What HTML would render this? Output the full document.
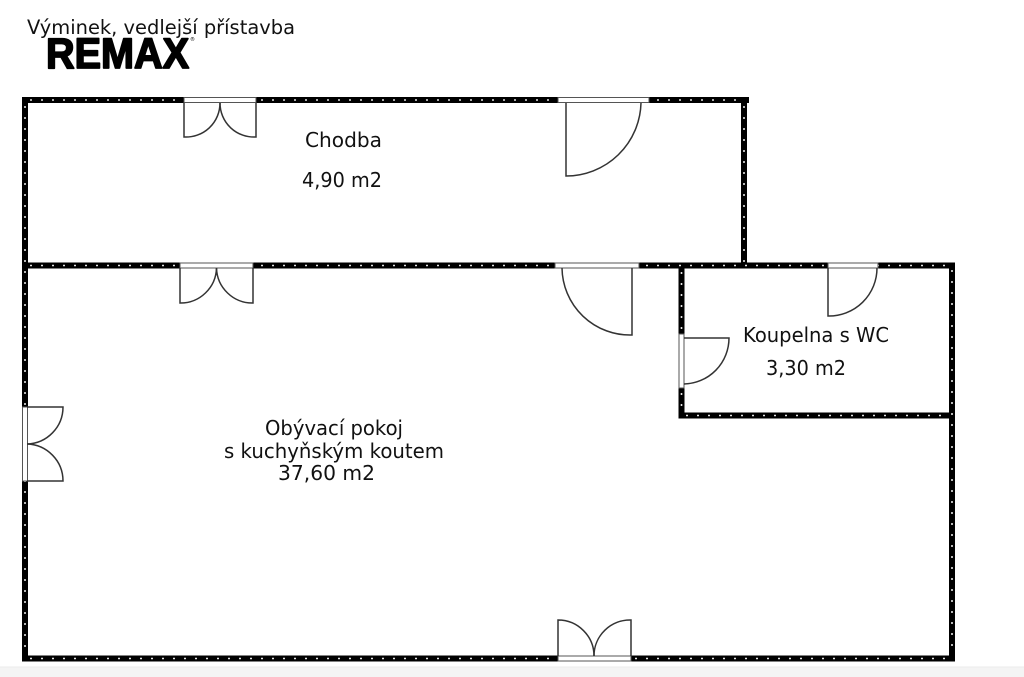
<!DOCTYPE html>
<html><head><meta charset="utf-8"><style>
html,body{margin:0;padding:0;background:#fff;}
svg{display:block;}
text{font-family:"DejaVu Sans","Liberation Sans",sans-serif;fill:#111;}
</style></head><body>
<svg width="1024" height="677" viewBox="0 0 1024 677" xmlns="http://www.w3.org/2000/svg">
<rect x="0" y="0" width="1024" height="677" fill="#fff"/>
<rect x="0" y="667" width="1024" height="10" fill="#f4f4f4"/>
<line x1="0" y1="667" x2="1024" y2="667" stroke="#ebebeb" stroke-width="1"/>

<!-- title -->
<text x="27" y="34" font-size="19.5" textLength="268" lengthAdjust="spacingAndGlyphs">Výminek, vedlejší přístavba</text>
<text x="46" y="68" font-weight="bold" font-size="43" textLength="143" lengthAdjust="spacingAndGlyphs" style="font-family:'Liberation Sans',sans-serif;fill:#000;stroke:#000;stroke-width:1.8;stroke-linejoin:round">REMAX</text>
<text x="190" y="41" font-size="5" style="fill:#000">®</text>

<!-- walls -->
<g stroke="#000" stroke-width="6" stroke-linecap="square" fill="none">
<line x1="25" y1="100" x2="746" y2="100"/>
<line x1="25" y1="100" x2="25" y2="658"/>
<line x1="744" y1="100" x2="744" y2="265"/>
<line x1="25" y1="265.5" x2="952" y2="265.5"/>
<line x1="681.5" y1="265.5" x2="681.5" y2="415.5"/>
<line x1="952" y1="265.5" x2="952" y2="658.5"/>
<line x1="681.5" y1="415.5" x2="952" y2="415.5"/>
<line x1="25" y1="658.5" x2="952" y2="658.5"/>
</g>
<g stroke="#fff" stroke-width="1.6" stroke-dasharray="2 9" fill="none" opacity="0.9">
<line x1="30" y1="100" x2="740" y2="100"/>
<line x1="25" y1="106" x2="25" y2="654"/>
<line x1="744" y1="106" x2="744" y2="262"/>
<line x1="30" y1="265.5" x2="948" y2="265.5"/>
<line x1="681.5" y1="272" x2="681.5" y2="412"/>
<line x1="952" y1="270" x2="952" y2="654"/>
<line x1="686" y1="415.5" x2="948" y2="415.5"/>
<line x1="30" y1="658.5" x2="948" y2="658.5"/>
</g>

<!-- door sills -->
<g fill="#fff" stroke="#555" stroke-width="1">
<rect x="184" y="97.5" width="72" height="5"/>
<rect x="558" y="97.5" width="91" height="5"/>
<rect x="180" y="263" width="73" height="5"/>
<rect x="555" y="263" width="84" height="5"/>
<rect x="828" y="263" width="50" height="5"/>
<rect x="679" y="334" width="5" height="54"/>
<rect x="22.5" y="407" width="5" height="74"/>
<rect x="558" y="656" width="73" height="5"/>
</g>

<!-- door leaves and arcs -->
<g fill="none" stroke="#333" stroke-width="1.5">
<path d="M184 103 V137 A34 34 0 0 0 220 103"/>
<path d="M256 103 V137 A34 34 0 0 1 220 103"/>
<path d="M566 103 V176 A75 75 0 0 0 641 103"/>
<path d="M180 268 V303 A36 36 0 0 0 216.5 268"/>
<path d="M253 268 V303 A36 36 0 0 1 216.5 268"/>
<path d="M632 268 V335 A68 68 0 0 1 562 268"/>
<path d="M828 268 V316 A48 48 0 0 0 877 268"/>
<path d="M684 338 H729 A46 46 0 0 1 684 384"/>
<path d="M27 407 H63 A37 37 0 0 1 27 444"/>
<path d="M27 481 H63 A37 37 0 0 0 27 444"/>
<path d="M558 656 V620 A36 36 0 0 1 594 656"/>
<path d="M631 656 V620 A36 36 0 0 0 594 656"/>
</g>

<!-- labels -->
<text x="305" y="147" font-size="20" textLength="77" lengthAdjust="spacingAndGlyphs">Chodba</text>
<text x="302" y="187" font-size="20" textLength="80" lengthAdjust="spacingAndGlyphs">4,90 m2</text>

<text x="265" y="435" font-size="20" textLength="138" lengthAdjust="spacingAndGlyphs">Obývací pokoj</text>
<text x="224" y="458" font-size="20" textLength="220" lengthAdjust="spacingAndGlyphs">s kuchyňským koutem</text>
<text x="278" y="480" font-size="20" textLength="97" lengthAdjust="spacingAndGlyphs">37,60 m2</text>

<text x="743" y="342" font-size="20" textLength="146" lengthAdjust="spacingAndGlyphs">Koupelna s WC</text>
<text x="766" y="375" font-size="20" textLength="80" lengthAdjust="spacingAndGlyphs">3,30 m2</text>
</svg>
</body></html>
